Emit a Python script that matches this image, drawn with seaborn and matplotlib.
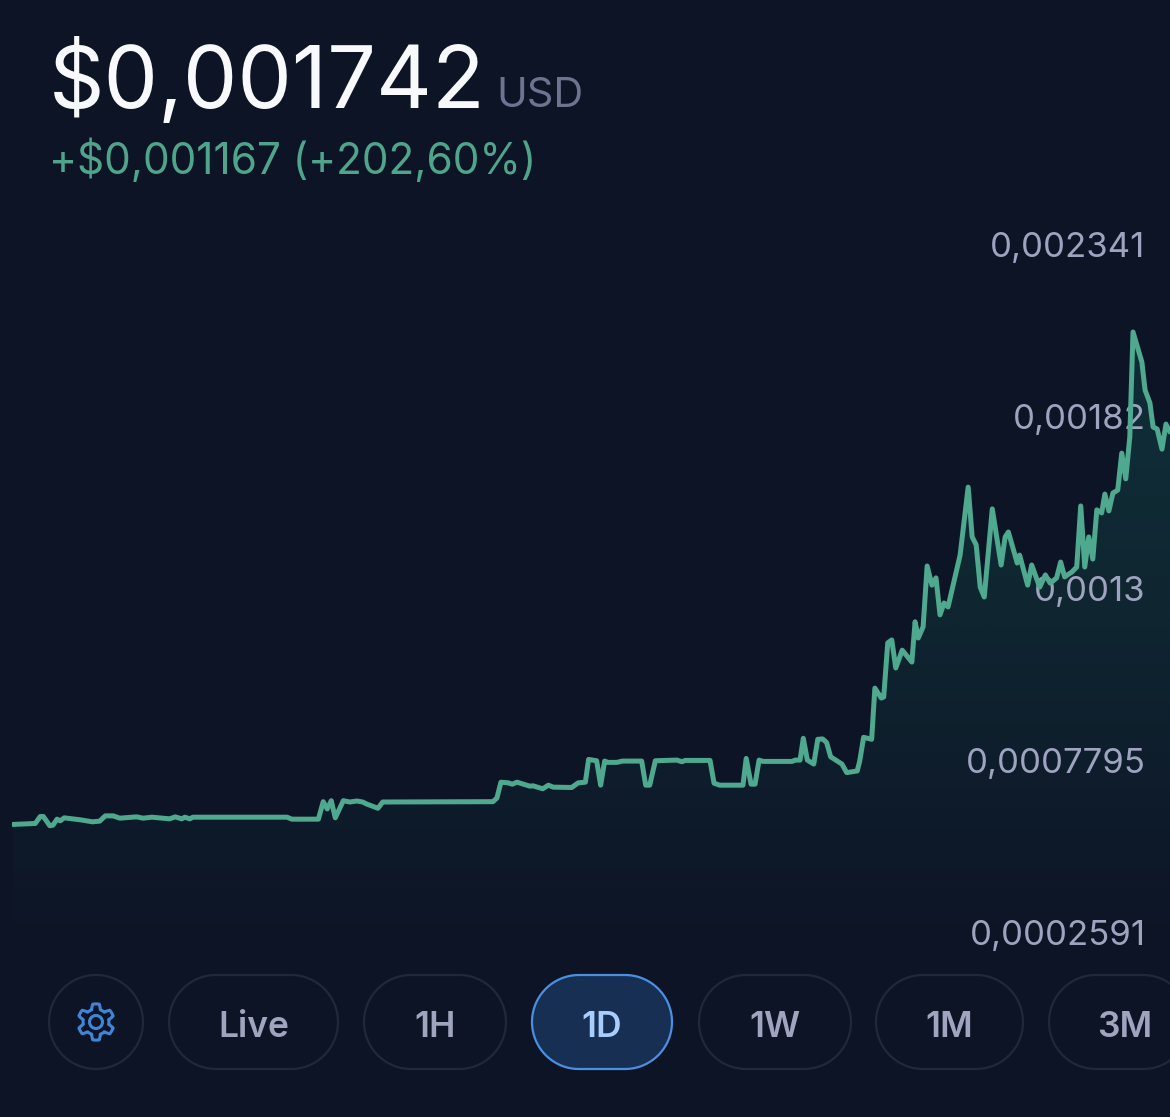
import numpy as np
import matplotlib

matplotlib.use("Agg")
import seaborn as sns
import matplotlib.pyplot as plt
from matplotlib.colors import LinearSegmentedColormap
from matplotlib.patches import Circle, PathPatch, Polygon
from matplotlib.path import Path

# minutes since the start of the 1D window
minutes = [
    1, 29, 35, 39, 47, 51, 56, 60, 65, 85, 100, 109, 116, 126, 134, 155, 163, 174, 196, 203,
    211, 215, 221, 225, 342, 348, 381, 387, 392, 397, 402, 412, 420, 429, 436, 441, 455, 461,
    598, 603, 608, 617, 622, 628, 644, 648, 660, 667, 673, 696, 704, 713, 717, 727, 732, 737,
    741, 752, 759, 783, 788, 793, 800, 827, 833, 837, 868, 873, 880, 909, 913, 919, 924, 929,
    934, 970, 974, 980, 984, 989, 997, 1002, 1008, 1013, 1018, 1032, 1038, 1051, 1054, 1059,
    1069, 1073, 1081, 1084, 1089, 1094, 1099, 1107, 1119, 1123, 1127, 1133, 1138, 1144, 1149,
    1154, 1159, 1164, 1179, 1189, 1194, 1199, 1204, 1209, 1219, 1230, 1235, 1239, 1250, 1253,
    1263, 1268, 1278, 1285, 1291, 1299, 1304, 1309, 1318, 1324, 1329, 1334, 1339, 1344, 1349,
    1355, 1359, 1364, 1369, 1375, 1380, 1385, 1390, 1394, 1405, 1409, 1415, 1419, 1424, 1430,
    1435, 1440,
]
# price in millionths of a dollar
price_micro = [
    585, 588, 609, 609, 581, 583, 601, 596, 605, 599, 593, 595, 611, 611, 604, 608, 604, 607, 602, 608,
    602, 607, 602, 607, 607, 601, 601, 654, 632, 657, 605, 657, 653, 656, 653, 647, 634, 653,
    654, 665, 713, 711, 707, 713, 701, 702, 693, 704, 698, 697, 711, 713, 782, 778, 704, 777,
    773, 773, 777, 777, 704, 704, 778, 780, 775, 779, 779, 710, 704, 704, 785, 707, 707, 780,
    776, 776, 780, 780, 846, 780, 768, 843, 844, 833, 790, 768, 742, 747, 775, 849,
    843, 998, 968, 971, 1135, 1144, 1059, 1113, 1077, 1199, 1150, 1184, 1368, 1310, 1332,
    1220, 1256, 1244, 1401, 1607, 1456, 1432, 1304, 1274, 1541, 1371, 1456, 1471, 1377, 1401,
    1310, 1371, 1304, 1341, 1316, 1332, 1380, 1335, 1350, 1365, 1550, 1365, 1456, 1389, 1538,
    1529, 1586, 1535, 1589, 1598, 1710, 1632, 1759, 2077, 1986, 1901, 1862, 1789, 1783, 1722,
    1798, 1774,
]
tick_values = [0.0002591, 0.0007795, 0.00130, 0.00182, 0.002341]
tick_labels = ["0,0002591", "0,0007795", "0,0013", "0,00182", "0,002341"]
price_text = "$0,001742"
currency_text = "USD"
change_text = "+$0,001167 (+202,60%)"
range_labels = ["Live", "1H", "1D", "1W", "1M", "3M"]
active_range = "1D"

BG = "#0d1425"
GREEN = "#4fa98f"
FONT = "Inter"

sns.set_theme(style="dark", rc={"axes.facecolor": BG, "figure.facecolor": BG})
plt.rcParams["font.family"] = [FONT, "DejaVu Sans"]

W, H = 1170, 1117
fig = plt.figure(figsize=(W / 100, H / 100), dpi=100)

# chart area runs from x=12 to the right edge, y=230 to y=950
ax = fig.add_axes([12 / W, 1 - 950 / H, 1158 / W, 720 / H])
prices = np.array(price_micro) * 1e-6
sns.lineplot(x=minutes, y=prices, ax=ax, color=GREEN, linewidth=3.6, errorbar=None, zorder=3)
line = ax.lines[-1]
line.set_solid_joinstyle("round")

# vertical fade under the line
fade = LinearSegmentedColormap.from_list(
    "fade", [BG, "#0e1c2b", "#0f2530", "#0f2b35", "#0f2d36"]
)
poly = ax.fill_between(minutes, prices, 0.0002046, alpha=0)
grad = ax.imshow(
    np.linspace(1, 0, 256).reshape(-1, 1),
    cmap=fade,
    vmin=0,
    vmax=1,
    aspect="auto",
    extent=(0, 1440, 0.0002046, 0.00215),
    zorder=1,
)
grad.set_clip_path(poly.get_paths()[0], transform=ax.transData)
ax.set_xlim(0, 1440)
ax.set_ylim(0.0002046, 0.002386)

ax.set_xticks([])
ax.yaxis.tick_right()
ax.set_yticks(tick_values, tick_labels)
ax.tick_params(axis="y", length=0, pad=-17.6, labelsize=25, labelcolor="#9ea3bf", zorder=5)
for lab in ax.get_yticklabels():
    lab.set_ha("right")
    lab.set_zorder(5)
ax.set_axisbelow(False)
ax.set_xlabel("")
ax.set_ylabel("")
sns.despine(ax=ax, left=True, right=True, top=True, bottom=True)

# page furniture in pixel coordinates
ui = fig.add_axes([0, 0, 1, 1])
ui.set_xlim(0, W)
ui.set_ylim(H, 0)
ui.axis("off")
ui.patch.set_alpha(0)

ui.text(49, 108, price_text, color="#f8f9fc", fontsize=62.3, va="baseline", ha="left")
ui.text(496, 107, currency_text, color="#6f7390", fontsize=29.8, va="baseline", ha="left")
ui.text(49, 174, change_text, color="#4fa58c", fontsize=30.5, va="baseline", ha="left")


def pill_outline(x0, x1, y0=975, y1=1069):
    r = (y1 - y0) / 2
    cy = (y0 + y1) / 2
    t = np.linspace(-np.pi / 2, np.pi / 2, 60)
    right = np.column_stack([x1 - r + r * np.cos(t), cy + r * np.sin(t)])
    left = np.column_stack([x0 + r - r * np.cos(t[::-1]), cy + r * np.sin(t[::-1])])
    return np.vstack([right, left])


pill_edges = [(169, 338), (364, 506), (532, 672), (699, 851), (876, 1023), (1049, 1190)]
for label, (x0, x1) in zip(range_labels, pill_edges):
    on = label == active_range
    ui.add_patch(
        Polygon(
            pill_outline(x0, x1),
            closed=True,
            facecolor="#172f52" if on else BG,
            edgecolor="#4a90e2" if on else "#232838",
            linewidth=1.6,
        )
    )
    ui.text(
        (x0 + x1) / 2 if label != "3M" else 1125,
        1037,
        label,
        color="#a6cdfc" if on else "#a0a4be",
        fontsize=25.5,
        fontweight="semibold",
        ha="center",
        va="baseline",
    )

# settings button with an outlined gear
ui.add_patch(Circle((96, 1022), 47, facecolor=BG, edgecolor="#232838", linewidth=1.6))
angles = np.linspace(0, 2 * np.pi, 240)
radius = 15.5 + 2.6 * np.clip(2.2 * np.cos(6 * (angles + np.pi / 2)), -1, 1)
gear = np.column_stack([96 + radius * np.cos(angles), 1022 + radius * np.sin(angles)])
ui.add_patch(PathPatch(Path(gear, closed=True), facecolor="none", edgecolor="#3f85d8", linewidth=2.2))
ui.add_patch(Circle((96, 1022), 6.5, facecolor="none", edgecolor="#3f85d8", linewidth=2.2))

fig.savefig("out.png", dpi=100, facecolor=BG)
plt.close(fig)
